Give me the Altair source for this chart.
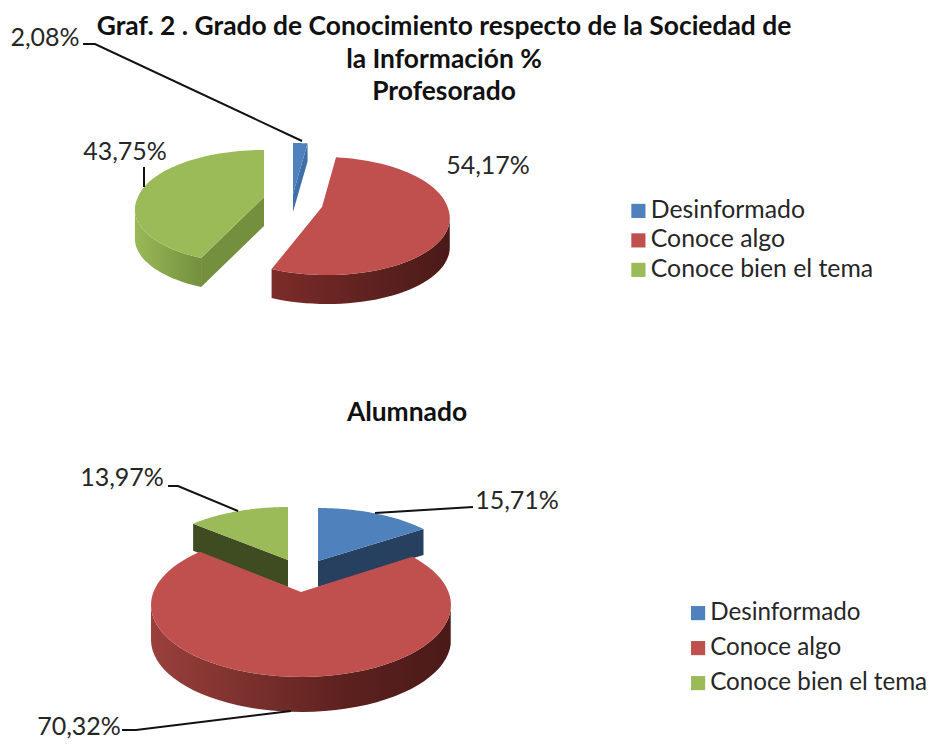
import math
import altair as alt
import pandas as pd

categories = ["Desinformado", "Conoce algo", "Conoce bien el tema"]
values_prof = [2.08, 54.17, 43.75]
values_alum = [15.71, 70.32, 13.97]
labels_prof = ["2,08%", "54,17%", "43,75%"]
labels_alum = ["15,71%", "70,32%", "13,97%"]
colors = ["#4f81bd", "#c0504d", "#9bbb59"]
title_prof = ["Graf. 2 . Grado de Conocimiento respecto de la Sociedad de", "la Información %", "Profesorado"]
title_alum = ["Alumnado"]
FONT = "Lato"

xs = alt.Scale(domain=[8, 928], nice=False, zero=False)
ys = alt.Scale(domain=[8, 740], nice=False, zero=False, reverse=True)
enc = dict(x=alt.X("x:Q", scale=xs, axis=None), y=alt.Y("y:Q", scale=ys, axis=None))


def grad(stops):
    return alt.Gradient(gradient="linear", x1=0, x2=1, y1=0, y2=0,
                        stops=[alt.GradientStop(offset=o, color=c) for o, c in stops])


def rim_point(apex, theta, a, b, d, sx):
    ux, uy = a * math.sin(theta), -b * math.cos(theta)
    A = (ux / a) ** 2 + (uy / b) ** 2
    B = 2 * uy * (-d) / b ** 2
    C = (d / b) ** 2 - 1
    s = (-B + math.sqrt(B * B - 4 * A * C)) / (2 * A)
    dy = s * uy
    return apex[0] + s * ux + sx * max(dy, 0), apex[1] + dy


def arc(apex, t0, t1, a, b, d, sx, n=70):
    return [rim_point(apex, t0 + (t1 - t0) * i / n, a, b, d, sx) for i in range(n + 1)]


def poly_df(pts, cat=""):
    return pd.DataFrame({"x": [p[0] for p in pts] + [pts[0][0]],
                         "y": [p[1] for p in pts] + [pts[0][1]],
                         "i": list(range(len(pts) + 1)),
                         "cat": cat})


def panel(values, labels, spec, title_lines, title_x, title_ys, legend_x, legend_y, row_pad, legend_font,
          leaders, label_pos):
    edges, t = [], 0.0
    for v in values:
        edges.append((t, t + v / 100 * 2 * math.pi))
        t = edges[-1][1]
    layers, tops = [], []
    for k, cat in enumerate(categories):
        s = spec[k]
        apex, a, b, d, dep = s["apex"], s["a"], s["b"], s["d"], s["depth"]
        t0, t1 = edges[k]
        pts = arc(apex, t0, t1, a, b, d, s.get("sx", 0))
        cy = apex[1] + d
        front = [p for p in pts if p[1] >= cy - 0.01]
        if s.get("rim") and len(front) > 1:
            shape = front + [(p[0], p[1] + dep) for p in reversed(front)]
            layers.append(alt.Chart(poly_df(shape)).mark_line(
                filled=True, fill=grad(s["rim"]), strokeWidth=0).encode(order="i:Q", **enc))
        if s.get("face"):
            e = pts[-1] if s.get("face_end", True) else pts[0]
            shape = [apex, e, (e[0], e[1] + dep), (apex[0], apex[1] + dep)]
            layers.append(alt.Chart(poly_df(shape)).mark_line(
                filled=True, fill=s["face"], strokeWidth=0).encode(order="i:Q", **enc))
        tops.append(poly_df([apex] + pts, cat))
    top = alt.Chart(pd.concat(tops, ignore_index=True)).mark_line(filled=True, strokeWidth=0).encode(
        order="i:Q",
        color=alt.Color("cat:N", scale=alt.Scale(domain=categories, range=colors), sort=categories,
                        legend=alt.Legend(title=None, orient="none", legendX=legend_x - 8, legendY=legend_y - 8,
                                          symbolType="square", symbolSize=200, symbolStrokeWidth=0,
                                          labelFont=FONT, labelFontSize=legend_font, labelColor="#262626",
                                          labelOffset=0, rowPadding=row_pad, labelLimit=400)),
        **enc)
    layers.append(top)
    for pts in leaders:
        layers.append(alt.Chart(pd.DataFrame({"x": [p[0] for p in pts], "y": [p[1] for p in pts],
                                              "i": list(range(len(pts)))})).mark_line(
            color="#111111", strokeWidth=2).encode(order="i:Q", **enc))
    layers.append(alt.Chart(pd.DataFrame({"x": [p[0] for p in label_pos], "y": [p[1] for p in label_pos],
                                          "t": labels})).mark_text(
        font=FONT, fontSize=25, color="#262626", align="center", baseline="middle").encode(text="t:N", **enc))
    layers.append(alt.Chart(pd.DataFrame({"x": [title_x] * len(title_lines), "y": title_ys, "t": title_lines})).mark_text(
        font=FONT, fontSize=26.4, fontWeight="bold", color="#111111", align="center", baseline="middle").encode(text="t:N", **enc))
    return layers


spec_prof = [
    dict(apex=(293, 194), a=129, b=59, d=8, depth=18, face="#3f6fa8"),
    dict(apex=(322, 207), a=127, b=59, d=9, depth=29, sx=0.08,
         rim=[(0, "#7c2c29"), (0.6, "#5c211f"), (1, "#4a1a18")]),
    dict(apex=(264, 197), a=128, b=57, d=10, depth=29, face="#748f3e", face_end=False, sx=-0.1,
         rim=[(0, "#9ab958"), (1, "#73903d")]),
]
spec_alum = [
    dict(apex=(318, 561), a=144, b=66, d=13, depth=26, face="#274060"),
    dict(apex=(301, 592), a=150, b=72, d=13, depth=35,
         rim=[(0, "#9a403c"), (0.65, "#5c211f"), (1, "#4a1a18")]),
    dict(apex=(288, 560), a=143, b=66, d=13, depth=27, face="#3f4b20", face_end=False),
]

top_layers = panel(values_prof, labels_prof, spec_prof, title_prof, 444, [27, 60, 92],
                   626, 198.5, 3.5, 24.8,
                   [[(83, 44), (95, 44), (302, 141)], [(144, 167), (144, 187)]],
                   [(45, 38), (488, 166), (125, 152)])
bot_layers = panel(values_alum, labels_alum, spec_alum, title_alum, 407, [413],
                   686, 601, 10, 24.2,
                   [[(473, 507), (375, 513)], [(122, 730), (136, 730), (291, 711)], [(168, 486), (178, 486), (238, 511)]],
                   [(517, 501), (79, 727), (122, 478)])

chart = alt.layer(*top_layers, *bot_layers).resolve_scale(color="independent").properties(
    width=920, height=732, padding=0,
    autosize=alt.AutoSizeParams(type="none", contains="padding")
).configure_view(stroke=None)
chart.save("out.html", embed_options={"renderer": "svg", "actions": False})
